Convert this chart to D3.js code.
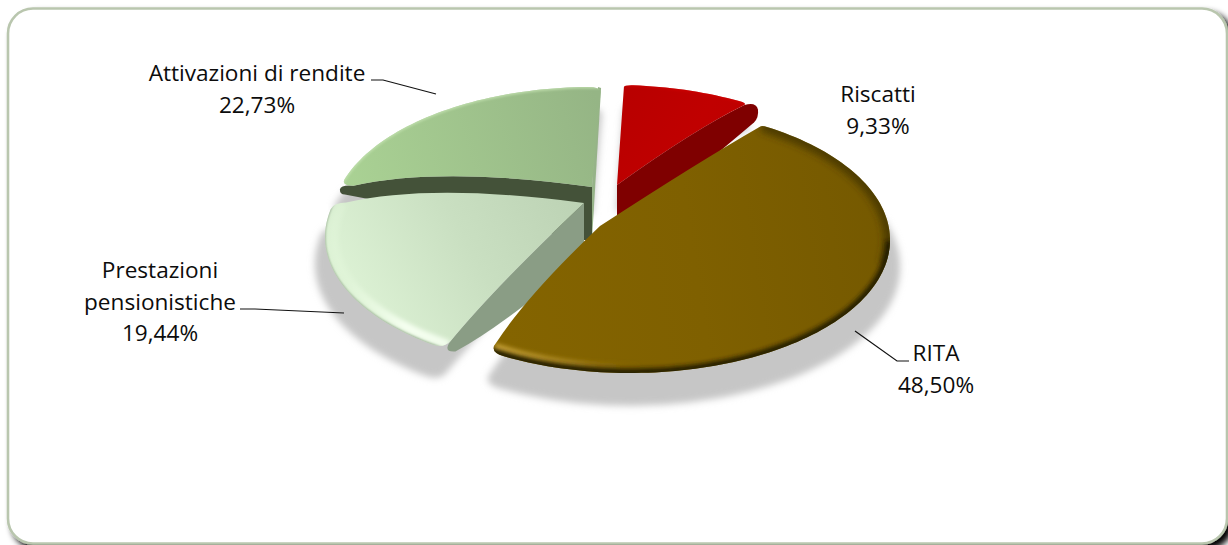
<!DOCTYPE html>
<html>
<head>
<meta charset="utf-8">
<script src="https://cdn.jsdelivr.net/npm/d3@7/dist/d3.min.js"></script>
<style>
  html, body { margin: 0; padding: 0; background: #fff; overflow: hidden; }
  svg { display: block; }
  text { font-family: "Open Sans", sans-serif; font-size: 22.6px; fill: #0c0c0c; text-anchor: middle; }
</style>
</head>
<body>
<svg id="chart" width="1228" height="545"></svg>
<script>
// Chart data, clockwise from twelve o'clock
const categories = ["Riscatti", "RITA", "Prestazioni pensionistiche", "Attivazioni di rendite"];
const shares = [9.33, 48.50, 19.44, 22.73];

// Tilted disc: rim ellipse radii and the depth of the wedge flanks at the tip
const rimRx = 260, rimRy = 133, wedgeDepth = 53;

// Foreshortening of the tilted disc: true sweep angle -> parameter on the screen ellipse
const boundaryOut = [2, 30.5, 213, 285, 362];

// Exploded wedge placement, per category
const sliceLayout = [
  { cx: 615, cy: 218, tip: [617, 185], bendA: [0, 0],    bendB: [0, -7],   roundA: 2, roundB: 2, easeA: 0.98, easeB: 0.98 },
  { cx: 630, cy: 240, tip: [600, 226], bendA: [0, -3],   bendB: [-6, -6],  roundA: 1.5, roundB: 4, easeA: 0.99, easeB: 0.93 },
  { cx: 585, cy: 237, tip: [584, 203], bendA: [-4, -4],  bendB: [-2, -20], roundA: 3, roundB: 3, easeA: 0.95, easeB: 0.95 },
  { cx: 592, cy: 220, tip: [592, 187], bendA: [0, -20],  bendB: [0, 0],    roundA: 3, roundB: 3, easeA: 0.95, easeB: 0.95 }
];

// Label placement and leader lines
const labelCentres = [878, 936, 160, 257];
const labelBaselines = [[102, 134], [361, 393], [278, 310, 341], [81, 113]];
const labelLines = [
  ["Riscatti"],
  ["RITA"],
  ["Prestazioni", "pensionistiche"],
  ["Attivazioni di rendite"]
];
const leaders = [
  null,
  [[855, 331], [897, 361], [909, 361]],
  [[240, 309], [255, 309], [344, 313]],
  [[371, 80], [383, 80], [436, 94]]
];

const svg = d3.select("#chart");
const defs = svg.append("defs");

function blurFilter(id, sd) {
  defs.append("filter").attr("id", id)
    .attr("filterUnits", "userSpaceOnUse")
    .attr("x", 0).attr("y", 0).attr("width", 1228).attr("height", 545)
    .append("feGaussianBlur").attr("stdDeviation", sd);
}
blurFilter("b1", 1);
blurFilter("b2", 2);
blurFilter("b3", 3.5);

function gradient(id, x1, y1, x2, y2, stops) {
  const g = defs.append("linearGradient").attr("id", id)
    .attr("gradientUnits", "userSpaceOnUse")
    .attr("x1", x1).attr("y1", y1).attr("x2", x2).attr("y2", y2);
  stops.forEach(([o, c, a]) => g.append("stop").attr("offset", o).attr("stop-color", c).attr("stop-opacity", a ?? 1));
}
gradient("gRed", 620, 90, 760, 180, [[0, "#b80000"], [0.5, "#c00000"], [1, "#bd0000"]]);
gradient("gRita", 500, 300, 890, 240, [[0, "#846400"], [0.5, "#7f6000"], [1, "#755900"]]);
gradient("gPrest", 330, 330, 590, 190, [[0, "#e2f7da"], [0.55, "#c9dfc1"], [1, "#bbd1b3"]]);
gradient("gAttiv", 345, 190, 600, 110, [[0, "#aad294"], [1, "#95b585"]]);
gradient("gRitaGlow", 495, 340, 640, 370, [[0, "#c9a437", 1], [0.55, "#b08c25", 0.8], [1, "#8a6a08", 0]]);
gradient("gPrestGlow", 340, 300, 450, 340, [[0, "#eeffe6", 0.2], [0.6, "#f5fff0", 1], [1, "#f5fff0", 0.9]]);

// Rounded panel with a soft shadow falling to the lower right
const shadow = defs.append("filter").attr("id", "panelShadow")
  .attr("x", "-5%").attr("y", "-5%").attr("width", "110%").attr("height", "110%");
shadow.append("feDropShadow").attr("dx", 5).attr("dy", 5).attr("stdDeviation", 3)
  .attr("flood-color", "#000").attr("flood-opacity", 1);
svg.append("rect")
  .attr("x", 8).attr("y", 8.5).attr("width", 1219).attr("height", 535)
  .attr("rx", 25).attr("ry", 25)
  .attr("fill", "#fff").attr("stroke", "#b9c6ae").attr("stroke-width", 2.6)
  .attr("filter", "url(#panelShadow)");

// Wedge sweeps come straight from the shares
const arcs = d3.pie().sort(null).value(d => d)(shares);
const toDeg = r => r * 180 / Math.PI;
const boundaries = arcs.map(a => toDeg(a.startAngle)).concat(360);
const rimParam = d3.scaleLinear().domain(boundaries).range(boundaryOut);

function rimPoint(s, deg, k = 1) {
  const r = deg * Math.PI / 180;
  return [s.cx + rimRx * k * Math.sin(r), s.cy - rimRy * k * Math.cos(r)];
}
const lerp = (a, b, t) => [a[0] + (b[0] - a[0]) * t, a[1] + (b[1] - a[1]) * t];
const plus = (p, d) => [p[0] + d[0], p[1] + d[1]];
const rimLine = d3.line();

function rimSamples(s, from, to, k = 1) {
  const n = Math.max(2, Math.ceil(Math.abs(to - from) / 1.5));
  return d3.range(n + 1).map(i => rimPoint(s, from + (to - from) * i / n, k));
}

// Control points and end points of the two radial edges of a wedge
function edges(w) {
  const s = w.s;
  const a = rimPoint(s, w.from), b = rimPoint(s, w.to);
  return {
    a, b,
    ca: plus(lerp(s.tip, a, 0.6), s.bendA),
    cb: plus(lerp(s.tip, b, 0.6), s.bendB),
    ea: lerp(s.tip, a, s.easeA),
    eb: lerp(s.tip, b, s.easeB),
    ra: rimPoint(s, w.from + s.roundA),
    rb: rimPoint(s, w.to - s.roundB)
  };
}

// Outline of a wedge's upper face, with softened outer corners
function faceOutline(w) {
  const s = w.s, e = edges(w);
  const p = d3.path();
  p.moveTo(s.tip[0], s.tip[1]);
  p.quadraticCurveTo(e.ca[0], e.ca[1], e.ea[0], e.ea[1]);
  p.quadraticCurveTo(e.a[0], e.a[1], e.ra[0], e.ra[1]);
  rimSamples(s, w.from + s.roundA, w.to - s.roundB).forEach(q => p.lineTo(q[0], q[1]));
  p.quadraticCurveTo(e.b[0], e.b[1], e.eb[0], e.eb[1]);
  p.quadraticCurveTo(e.cb[0], e.cb[1], s.tip[0], s.tip[1]);
  p.closePath();
  return p.toString();
}

const wedges = arcs.map((a, i) => {
  const s = sliceLayout[i];
  return {
    s, i,
    from: rimParam(toDeg(a.startAngle)),
    to: rimParam(toDeg(a.endAngle)),
    bottom: [s.tip[0], s.tip[1] + wedgeDepth]
  };
});
wedges.forEach(w => { w.outline = faceOutline(w); });

defs.selectAll("clipPath.face").data(wedges).join("clipPath")
  .attr("class", "face").attr("id", w => "face" + w.i)
  .append("path").attr("d", w => w.outline);

// Ground shadow: each wedge dropped and slightly enlarged
const shadowLayer = svg.append("g").attr("filter", "url(#b3)");
wedges.forEach(w => {
  const { s } = w;
  const k = 1.035, dy = 27;
  shadowLayer.append("path")
    .attr("d", w.outline)
    .attr("transform", `translate(${s.cx},${s.cy + dy}) scale(${k}) translate(${-s.cx},${-s.cy})`)
    .attr("fill", "#c6c6c6")
    .attr("stroke", "#c6c6c6").attr("stroke-width", 2);
});

function rimStroke(parent, w, from, to, k, color, width, blur, opacity = 1) {
  parent.append("path")
    .attr("d", rimLine(rimSamples(w.s, from, to, k)))
    .attr("fill", "none")
    .attr("stroke", color)
    .attr("stroke-width", width)
    .attr("stroke-opacity", opacity)
    .attr("filter", `url(#${blur})`);
}

function drawFace(w, fill) {
  const g = svg.append("g");
  g.append("path").attr("d", w.outline).attr("fill", fill);
  return g.append("g").attr("clip-path", `url(#face${w.i})`);
}

function poly(points, fill) {
  svg.append("path").attr("d", rimLine(points) + "Z").attr("fill", fill);
}

// Attivazioni di rendite: lit right flank and dark left flank
{
  const w = wedges[3], s = w.s, e = edges(w);
  const d = d3.path();
  d.moveTo(s.tip[0], s.tip[1]);
  d.quadraticCurveTo(e.ca[0], e.ca[1], e.ea[0], e.ea[1]);
  d.quadraticCurveTo(e.a[0], e.a[1] - 1, e.a[0] - 1, e.a[1] + 4);
  d.quadraticCurveTo(e.a[0] - 1, e.a[1] + 9, e.a[0] + 4, e.a[1] + 9);
  d.lineTo(s.tip[0] - 8, w.bottom[1]);
  d.lineTo(w.bottom[0], w.bottom[1]);
  d.closePath();
  svg.append("path").attr("d", d.toString()).attr("fill", "#445239");
  poly([s.tip, plus(e.b, [-3, 0]), plus(e.b, [0, 1]), w.bottom], "#96b388");
  const f = drawFace(w, "url(#gAttiv)");
  rimStroke(f, w, w.from, w.to, 1, "#c4e2b2", 3, "b1", 0.8);
}

// Riscatti: darker inner flank, hidden further down by the RITA wedge
{
  const w = wedges[0], s = w.s, e = edges(w);
  const d = d3.path();
  d.moveTo(s.tip[0], s.tip[1]);
  d.quadraticCurveTo(e.cb[0], e.cb[1], e.eb[0], e.eb[1]);
  d.quadraticCurveTo(e.b[0] + 9, e.b[1] - 2, e.b[0] + 11, e.b[1] + 6);
  d.quadraticCurveTo(e.b[0] + 12, e.b[1] + 14, e.b[0] + 7, e.b[1] + 19);
  d.lineTo(w.bottom[0], w.bottom[1]);
  d.closePath();
  svg.append("path").attr("d", d.toString()).attr("fill", "#7f0000");
  const f = drawFace(w, "url(#gRed)");
  rimStroke(f, w, w.from, w.to, 1, "#d40000", 3, "b1", 0.6);
}

// Prestazioni pensionistiche: grey-green flank tapering toward the rim
{
  const w = wedges[2], s = w.s, e = edges(w);
  const d = d3.path();
  d.moveTo(s.tip[0], s.tip[1]);
  d.quadraticCurveTo(e.ca[0], e.ca[1], e.ea[0], e.ea[1]);
  d.quadraticCurveTo(e.a[0] - 1, e.a[1] + 4, e.a[0] + 12, e.a[1] + 3);
  d.quadraticCurveTo(e.a[0] + 62, e.a[1] - 24, w.bottom[0], w.bottom[1]);
  d.closePath();
  svg.append("path").attr("d", d.toString()).attr("fill", "#8a9d85");
  const f = drawFace(w, "url(#gPrest)");
  rimStroke(f, w, w.from, w.to, 0.965, "url(#gPrestGlow)", 9, "b2");
  rimStroke(f, w, w.from, w.to, 1.003, "#8fa389", 2.4, "b1", 0.9);
}

// RITA: the front wedge, sitting over all the others
{
  const w = wedges[1];
  const f = drawFace(w, "url(#gRita)");
  rimStroke(f, w, w.from + 20, w.to, 0.955, "url(#gRitaGlow)", 7, "b2");
  rimStroke(f, w, w.from, w.from + 70, 1.0, "#3a2c00", 13, "b3", 0.7);
  rimStroke(f, w, w.from + 60, w.to, 1.0, "#241a00", 9, "b2", 0.95);
}

// Leader lines
svg.append("g").selectAll("path")
  .data(leaders.filter(Boolean))
  .join("path")
  .attr("d", d => rimLine(d))
  .attr("fill", "none")
  .attr("stroke", "#111")
  .attr("stroke-width", 1.2);

// Category and percentage labels
const pct = d3.formatLocale({ decimal: ",", thousands: ".", grouping: [3], currency: ["", ""] }).format(".2f");
const labels = svg.append("g");
categories.forEach((c, i) => {
  labelLines[i].concat(pct(shares[i]) + "%").forEach((t, j) => {
    labels.append("text")
      .attr("x", labelCentres[i])
      .attr("y", labelBaselines[i][j])
      .text(t);
  });
});
</script>
</body>
</html>
